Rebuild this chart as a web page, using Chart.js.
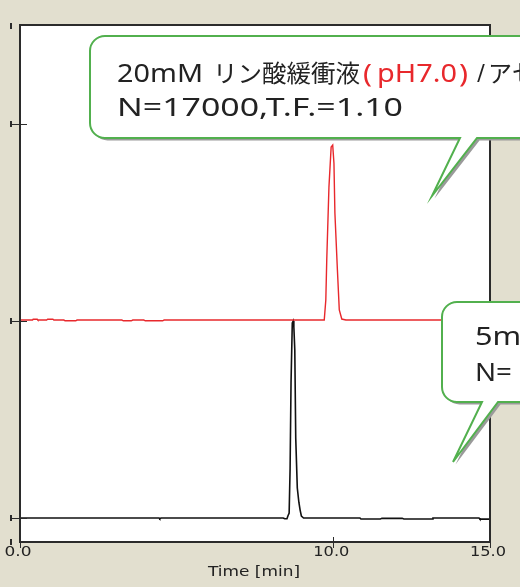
<!DOCTYPE html>
<html>
<head>
<meta charset="utf-8">
<script src="https://cdn.jsdelivr.net/npm/chart.js@4"></script>
<style>
  html, body { margin: 0; padding: 0; background: #e2dfcf; overflow: hidden; }
  canvas { display: block; }
</style>
</head>
<body>
<canvas id="chrom" width="520" height="587"></canvas>
<script>
// pH7.0 trace (red), offset one unit up
const redTimes = [0, 0.40, 0.42, 0.55, 0.57, 0.85, 0.88, 1.05, 1.08, 1.40, 1.44, 1.78, 1.82,
  3.25, 3.30, 3.55, 3.60, 3.95, 4.00, 4.55, 4.60, 5.20, 5.25, 7.50,
  9.60, 9.71, 9.76, 9.79, 9.86, 9.93, 9.98, 10.02, 10.05, 10.13, 10.19, 10.27, 10.40, 12.50, 15.0];
const redValues = [1.005, 1.005, 1.009, 1.009, 1.005, 1.005, 1.009, 1.009, 1.005, 1.005, 1.001, 1.001, 1.005,
  1.005, 1.001, 1.001, 1.005, 1.005, 1.001, 1.001, 1.005, 1.005, 1.005, 1.005,
  1.005, 1.005, 1.107, 1.31, 1.68, 1.883, 1.893, 1.80, 1.548, 1.259, 1.056, 1.01, 1.005, 1.005, 1.005];

// 5mM trace (black)
const blackTimes = [0, 4.44, 4.46, 4.50, 8.40, 8.45, 8.52, 8.55, 8.59, 8.62, 8.65, 8.69, 8.72, 8.74, 8.77,
  8.80, 8.85, 8.90, 8.94, 8.98, 9.05, 10.85, 10.88, 11.50, 11.55, 12.20, 12.25, 13.15, 13.18, 14.65, 14.68, 15.0];
const blackValues = [0, 0, -0.004, 0, 0, -0.004, -0.004, 0.01, 0.025, 0.25, 0.685, 0.99, 1.00, 0.97, 0.853,
  0.406, 0.152, 0.08, 0.04, 0.01, 0, 0, -0.005, -0.005, -0.002, -0.002, -0.005, -0.005, 0, 0, -0.006, -0.006];

const xTickValues = [0, 10, 15];
const xTickLabels = ["0.0", "10.0", "15.0"];
const yTickValues = [2, 1, 0];
const yEdgeMarks = [2.5, 2, 1, 0, -0.12];

function toPoints(xs, ys) {
  return xs.map((t, i) => ({ x: t, y: ys[i] }));
}

// width > 0: stretch to that width; width < 0: stretch by factor -width
function fitText(ctx, text, x, y, width, font, color, align) {
  ctx.save();
  ctx.font = font;
  ctx.fillStyle = color;
  ctx.textBaseline = "alphabetic";
  const w = ctx.measureText(text).width;
  let s = 1;
  if (width > 0) s = width / w;
  else if (width < 0) s = -width;
  let left = x;
  if (align === "center") left = x - (w * s) / 2;
  ctx.translate(left, y);
  ctx.scale(s, 1);
  ctx.fillText(text, 0, 0);
  ctx.restore();
}

function balloonPath(ctx, l, t, r, b, rad, tailL, tailR, tipX, tipY) {
  ctx.beginPath();
  ctx.moveTo(l + rad, t);
  ctx.lineTo(r, t);
  ctx.lineTo(r, b);
  ctx.lineTo(tailR, b);
  ctx.lineTo(tipX, tipY);
  ctx.lineTo(tailL, b);
  ctx.lineTo(l + rad, b);
  ctx.arcTo(l, b, l, b - rad, rad);
  ctx.lineTo(l, t + rad);
  ctx.arcTo(l, t, l + rad, t, rad);
  ctx.closePath();
}

function drawBalloon(ctx, args) {
  ctx.save();
  ctx.translate(2.5, 2.5);
  balloonPath(ctx, ...args);
  ctx.fillStyle = "#9a9a9a";
  ctx.fill();
  ctx.restore();
  ctx.save();
  balloonPath(ctx, ...args);
  ctx.fillStyle = "#ffffff";
  ctx.fill();
  ctx.lineWidth = 2;
  ctx.strokeStyle = "#52b04e";
  ctx.stroke();
  ctx.restore();
}

const latin = '26px "Noto Sans"';
const cjk = '24px "Noto Sans CJK JP"';
const dark = "#222222";
const red = "#e8282c";

const framePlugin = {
  id: "frame",
  beforeDraw(chart) {
    const { ctx, chartArea: a } = chart;
    ctx.save();
    ctx.fillStyle = "#ffffff";
    ctx.fillRect(a.left, a.top, a.right - a.left, a.bottom - a.top);
    ctx.restore();
  },
  afterDatasetsDraw(chart) {
    const { ctx, chartArea: a, scales } = chart;
    ctx.save();
    ctx.strokeStyle = "#2b2b2b";
    ctx.lineWidth = 2;
    ctx.strokeRect(a.left, a.top, a.right - a.left, a.bottom - a.top);

    ctx.lineWidth = 1;
    yTickValues.forEach(v => {
      const y = Math.round(scales.y.getPixelForValue(v)) + 0.5;
      ctx.beginPath();
      ctx.moveTo(12, y);
      ctx.lineTo(a.left + 7, y);
      ctx.stroke();
    });
    ctx.fillStyle = "#2b2b2b";
    yEdgeMarks.forEach(v => {
      const y = Math.round(scales.y.getPixelForValue(v));
      ctx.fillRect(10, y - 3, 2, 6);
    });
    xTickValues.forEach(v => {
      const x = Math.round(scales.x.getPixelForValue(v)) + 0.5;
      ctx.beginPath();
      ctx.moveTo(x, a.bottom - 5);
      ctx.lineTo(x, a.bottom + 6);
      ctx.stroke();
    });
    ctx.restore();

    xTickValues.forEach((v, i) => {
      const x = scales.x.getPixelForValue(v);
      const w = xTickLabels[i].length * 9;
      fitText(ctx, xTickLabels[i], x - 2, 556, w, '14px "DejaVu Sans"', dark, "center");
    });
    fitText(ctx, "Time [min]", (a.left + a.right) / 2 - 1, 576, 92, '14px "DejaVu Sans"', dark, "center");
  },
  afterDraw(chart) {
    const ctx = chart.ctx;
    // callout for the pH7.0 peak
    drawBalloon(ctx, [90, 36, 560, 138, 15, 460, 477, 432, 196]);
    fitText(ctx, "20mM", 117, 82, 86, latin, dark);
    fitText(ctx, "リン酸緩衝液", 213, 82, 147, cjk, dark);
    fitText(ctx, "(", 363, 82, 9, latin, red);
    fitText(ctx, "pH7.0", 377, 82, 80, latin, red);
    fitText(ctx, ")", 459, 82, 9, latin, red);
    fitText(ctx, "/", 477, 82, 8, latin, dark);
    fitText(ctx, "アセトニトリル", 488, 82, 0, cjk, dark);
    fitText(ctx, "N=17000,T.F.=1.10", 117, 116, 286, latin, dark);

    // callout for the 5mM peak
    drawBalloon(ctx, [442, 302, 560, 402, 15, 482, 498, 453, 462]);
    fitText(ctx, "5mM リン酸緩衝液", 475, 345, -1.18, latin, dark);
    fitText(ctx, "N=", 475, 381, 37, latin, dark);
  }
};

new Chart(document.getElementById("chrom"), {
  type: "line",
  data: {
    datasets: [
      {
        label: "pH7.0",
        data: toPoints(redTimes, redValues),
        borderColor: red,
        borderWidth: 1.4,
        pointRadius: 0,
        tension: 0
      },
      {
        label: "5mM",
        data: toPoints(blackTimes, blackValues),
        borderColor: "#111111",
        borderWidth: 1.6,
        pointRadius: 0,
        tension: 0
      }
    ]
  },
  options: {
    responsive: false,
    animation: false,
    events: [],
    layout: { padding: { left: 20, top: 25, right: 30, bottom: 45 } },
    plugins: {
      legend: { display: false },
      tooltip: { enabled: false }
    },
    scales: {
      x: { type: "linear", min: 0, max: 15, display: false },
      y: { type: "linear", min: -0.122, max: 2.503, display: false }
    }
  },
  plugins: [framePlugin]
});
</script>
</body>
</html>
